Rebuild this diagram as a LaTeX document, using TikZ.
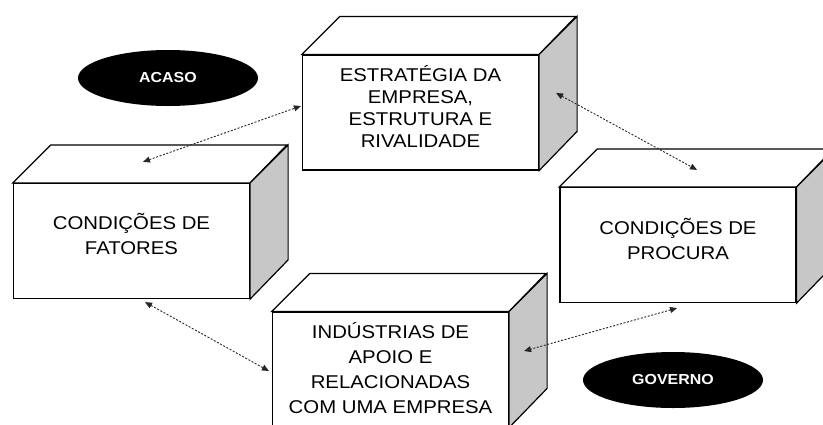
\documentclass[tikz,border=0pt]{standalone}
\usepackage{fontspec}
\setmainfont{Liberation Sans}[FakeStretch=1.1]
\usepackage{tikz}
\usetikzlibrary{positioning}
\usetikzlibrary{arrows.meta,shapes}
\tikzstyle{frontface}=[rectangle,draw=black,line width=1.2pt,fill=white,minimum width=236pt,minimum height=115pt,inner sep=0pt]
\tikzstyle{topface}=[draw=black,line width=1.2pt,fill=white,line join=miter]
\tikzstyle{sideface}=[draw=black,line width=1.2pt,fill=black!22,line join=miter]
\tikzstyle{boxtext}=[align=center,inner sep=0pt,font=\fontsize{18.5}{25}\selectfont]
\tikzstyle{oval}=[ellipse,fill=black,text=white,minimum width=180pt,minimum height=56pt,inner sep=0pt,font=\fontsize{14.5}{16}\selectfont\bfseries]
\tikzstyle{link}=[draw=black!85,line width=0.9pt,dash pattern=on 2pt off 1.6pt,{Triangle[length=7pt,width=6pt]}-{Triangle[length=7pt,width=6pt]}]

\begin{document}
\begin{tikzpicture}[x=1pt,y=-1pt]
    \useasboundingbox (0,0) rectangle (823,424);
    \clip (0,0) rectangle (823,424);

    \foreach \pos/\name in {{(131.5,241)/fatores}, {(420.5,112.5)/estrategia}, {(678,245)/procura}, {(390.5,369.5)/industrias}}
        \node[frontface] (\name) at \pos {};

    \foreach \name in {fatores, estrategia, procura, industrias}{
        \path[topface] (\name.north west) -- ++(38,-38) -- ++(236,0) -- (\name.north east) -- cycle;
        \path[sideface] (\name.north east) -- ++(38,-38) -- ++(0,115) -- (\name.south east) -- cycle;
    }

    \node[boxtext,yshift=7pt] (fatoresTxt) at (fatores.center) {CONDIÇÕES DE\\FATORES};
    \node[boxtext,yshift=6pt,font=\fontsize{18.5}{22}\selectfont] (estrategiaTxt) at (estrategia.center) {ESTRATÉGIA DA\\EMPRESA,\\ESTRUTURA E\\RIVALIDADE};
    \node[boxtext,yshift=6.5pt] (procuraTxt) at (procura.center) {CONDIÇÕES DE\\PROCURA};
    \node[boxtext,yshift=1pt] (industriasTxt) at (industrias.center) {INDÚSTRIAS DE\\APOIO E\\RELACIONADAS\\COM UMA EMPRESA};

    \node[oval] (acaso) at (168,78) {ACASO};
    \node[oval] (governo) at (673,380) {GOVERNO};

    % ligacoes entre os determinantes
    \path[link] ([shift={(11.5,-21)}]fatores.north) -- ([shift={(-1,-6.5)}]estrategia.west);
    \path[link] ([shift={(17,-19.5)}]estrategia.east) -- ([shift={(19,-17)}]procura.north);
    \path[link] ([shift={(13.5,3)}]fatores.south) -- ([shift={(-3,1.5)}]industrias.west);
    \path[link] ([shift={(-1,5)}]procura.south) -- ([shift={(15,-18.5)}]industrias.east);
\end{tikzpicture}
\end{document}
